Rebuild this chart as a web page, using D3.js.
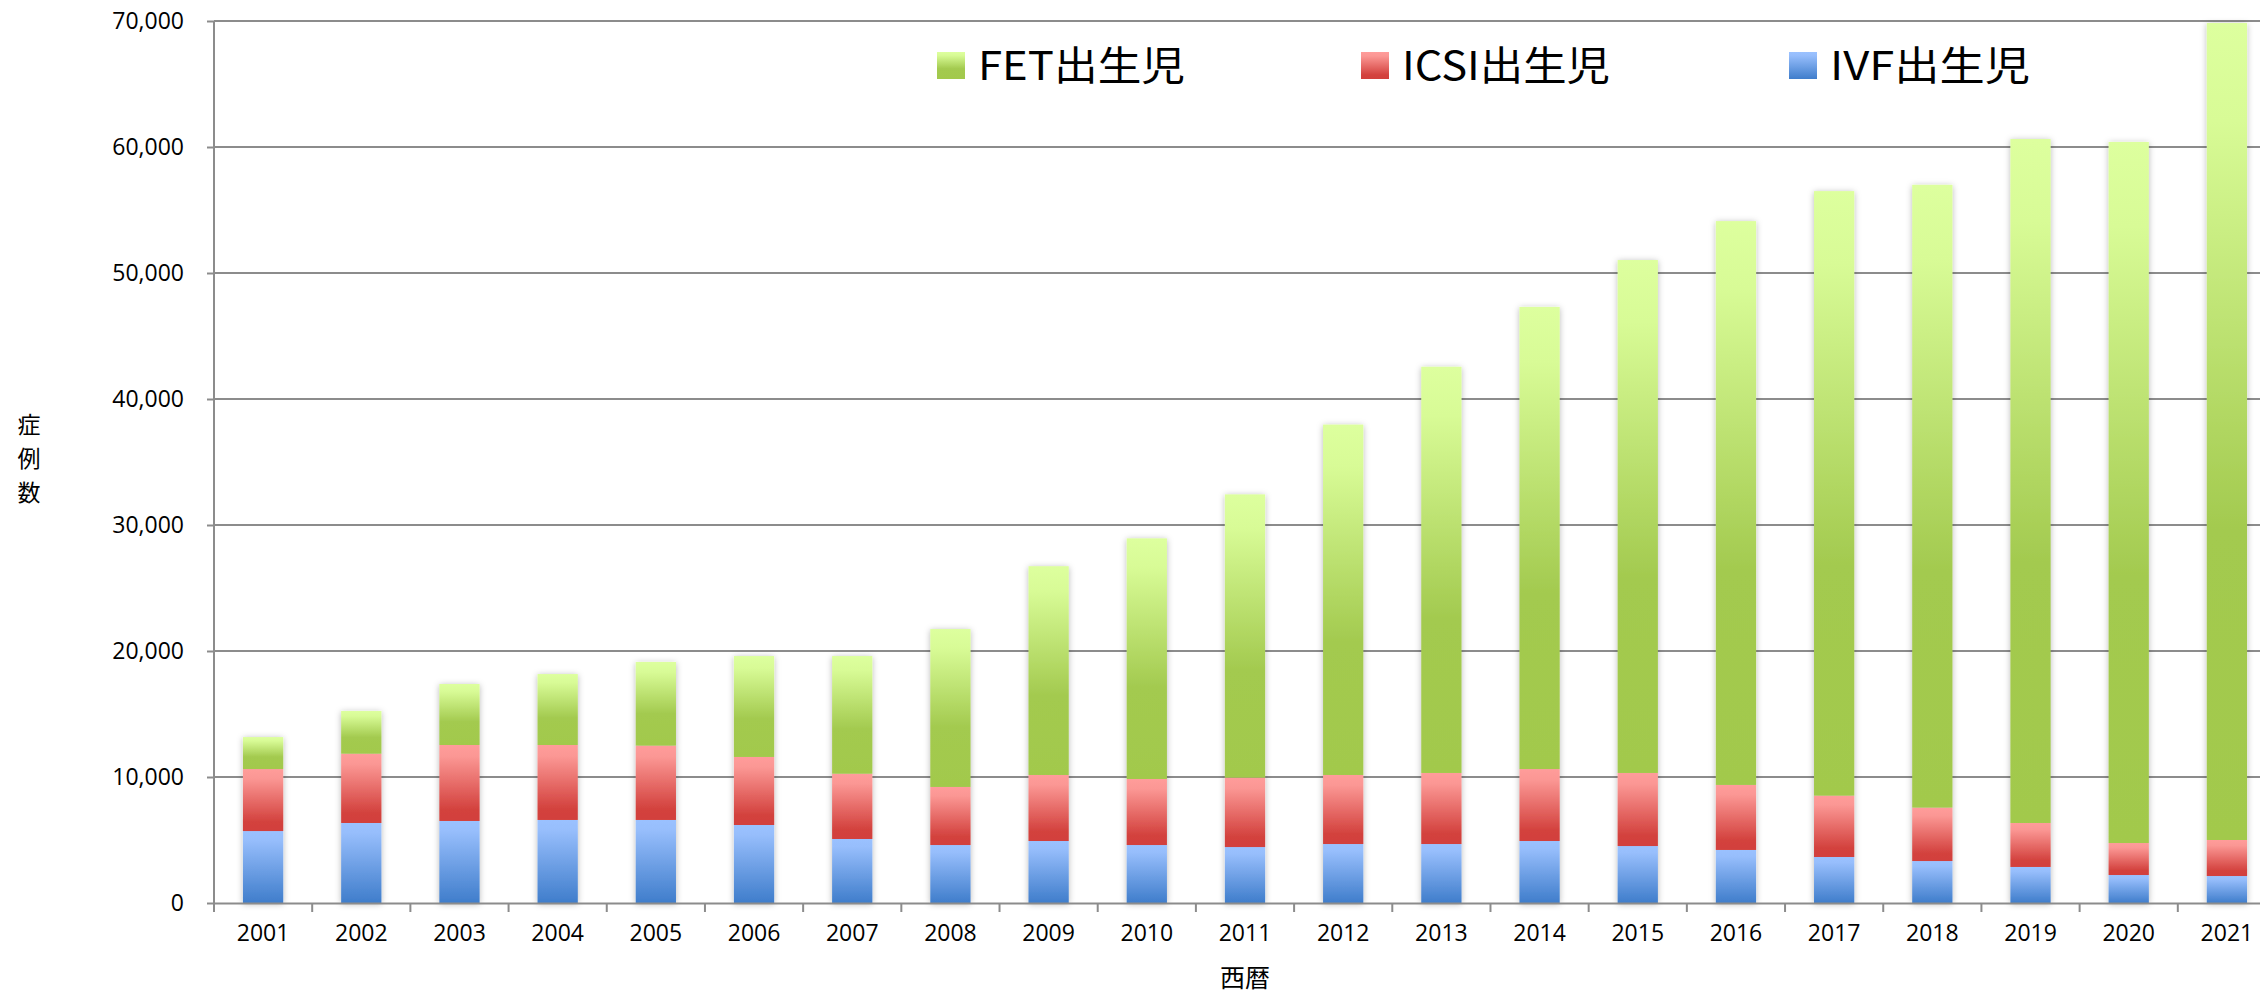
<!DOCTYPE html>
<html><head><meta charset="utf-8">
<script src="https://cdn.jsdelivr.net/npm/d3@7"></script>
<style>
html,body{margin:0;padding:0;background:#fff;overflow:hidden}
svg{display:block}
</style></head>
<body>
<svg id="chart" width="2260" height="996"></svg>
<script>
const years = ["2001","2002","2003","2004","2005","2006","2007","2008","2009","2010","2011","2012","2013","2014","2015","2016","2017","2018","2019","2020","2021"];
const ivf  = [5710,6350,6510,6590,6590,6190,5080,4600,4920,4600,4440,4680,4680,4920,4520,4210,3650,3330,2860,2220,2140];
const icsi = [4920,5500,6030,5950,5900,5400,5180,4610,5240,5240,5510,5480,5640,5710,5800,5160,4870,4240,3490,2540,2860];
const fet  = [2540,3390,4840,5630,6640,8010,9340,12530,16570,19100,22480,27810,32240,36680,40710,44750,47980,49430,54280,55640,64840];
const yTicks = [0,10000,20000,30000,40000,50000,60000,70000];
const seriesKeys = ["ivf","icsi","fet"];
const seriesNames = {fet:"FET出生児", icsi:"ICSI出生児", ivf:"IVF出生児"};
const legendOrder = ["fet","icsi","ivf"];
const yTitleChars = ["症","例","数"];
const xTitle = "西暦";

const rows = years.map((y,i)=>({year:y, ivf:ivf[i], icsi:icsi[i], fet:fet[i]}));
const stacked = d3.stack().keys(seriesKeys)(rows);

const svg = d3.select("#chart");
const x = d3.scaleBand().domain(years).range([214, 2276]).padding(0);
const y = d3.scaleLinear().domain([0,70000]).range([903, 21]);
const barW = x.bandwidth()*0.41;

const defs = svg.append("defs");
const grads = {
  fet: [[0,"#ddff9e"],[0.12,"#d8fb96"],[0.62,"#a3ca4f"],[1,"#a2c94c"]],
  icsi:[[0,"#ff9c9a"],[0.15,"#fb9794"],[0.85,"#d3423e"],[1,"#d2403c"]],
  ivf: [[0,"#9ac1ff"],[0.12,"#97befc"],[1,"#3f7dcb"]]
};
Object.entries(grads).forEach(([k,stops])=>{
  const g = defs.append("linearGradient").attr("id","g-"+k).attr("x1",0).attr("y1",0).attr("x2",0).attr("y2",1);
  stops.forEach(s=>g.append("stop").attr("offset",s[0]).attr("stop-color",s[1]));
});
const f = defs.append("filter").attr("id","shadow").attr("x","-30%").attr("y","-5%").attr("width","160%").attr("height","110%");
f.append("feDropShadow").attr("dx",0).attr("dy",1).attr("stdDeviation",3).attr("flood-color","#000").attr("flood-opacity",0.28);

// gridlines
svg.append("g").selectAll("line").data(yTicks.filter(d=>d>0)).join("line")
  .attr("x1",214).attr("x2",2276).attr("y1",d=>y(d)).attr("y2",d=>y(d))
  .attr("stroke","#8c8c8c").attr("stroke-width",2);

// bars
const barG = svg.append("g").selectAll("g.bar").data(rows).join("g").attr("class","bar").attr("filter","url(#shadow)");
barG.each(function(d,i){
  const g = d3.select(this);
  stacked.forEach(s=>{
    const seg = s[i];
    g.append("rect")
      .attr("x", x(d.year)+ (x.bandwidth()-barW)/2)
      .attr("width", barW)
      .attr("y", y(seg[1]))
      .attr("height", y(seg[0]) - y(seg[1]))
      .attr("fill","url(#g-"+s.key+")");
  });
});

// y axis
const yAxis = svg.append("g").attr("transform","translate(214,0)")
  .call(d3.axisLeft(y).tickValues(yTicks).tickSize(7).tickPadding(23).tickFormat(d3.format(",")));
yAxis.select(".domain").attr("stroke","#8c8c8c").attr("stroke-width",2).attr("d","M0,"+y(70000)+"V"+y(0));
yAxis.selectAll(".tick line").attr("stroke","#8c8c8c").attr("stroke-width",2);
yAxis.selectAll("text").attr("font-family","'Open Sans', sans-serif").attr("font-size",23).attr("fill","#000");

// x axis
const xAxis = svg.append("g").attr("transform","translate(0,903)")
  .call(d3.axisBottom(x).tickSize(0).tickPadding(22));
xAxis.select(".domain").attr("stroke","#8c8c8c").attr("stroke-width",2);
xAxis.selectAll("text").attr("font-family","'Open Sans', sans-serif").attr("font-size",23).attr("fill","#000");
xAxis.append("g").selectAll("line").data(d3.range(years.length+1)).join("line")
  .attr("x1",i=>214+i*x.step()).attr("x2",i=>214+i*x.step())
  .attr("y1",0).attr("y2",9).attr("stroke","#8c8c8c").attr("stroke-width",2);

// axis titles
yTitleChars.forEach((c,i)=>{
  svg.append("text").attr("x",29).attr("y",433+i*34).attr("text-anchor","middle")
    .attr("font-family","'Noto Sans CJK JP', sans-serif").attr("font-size",23).attr("fill","#000").text(c);
});
svg.append("text").attr("x",1245).attr("y",987).attr("text-anchor","middle")
  .attr("font-family","'Noto Sans CJK JP', sans-serif").attr("font-size",25).attr("fill","#000").text(xTitle);

// legend
const legX = {fet:937, icsi:1361, ivf:1789};
const legW = {fet:207, icsi:208, ivf:200};
legendOrder.forEach(k=>{
  svg.append("rect").attr("x",legX[k]).attr("y",52).attr("width",28).attr("height",27).attr("fill","url(#g-"+k+")");
  svg.append("text").attr("x",legX[k]+41).attr("y",80)
    .attr("font-family","'Noto Sans CJK JP', sans-serif").attr("font-size",40).attr("fill","#000")
    .attr("textLength",legW[k]).attr("lengthAdjust","spacingAndGlyphs").text(seriesNames[k]);
});
</script>
</body></html>
